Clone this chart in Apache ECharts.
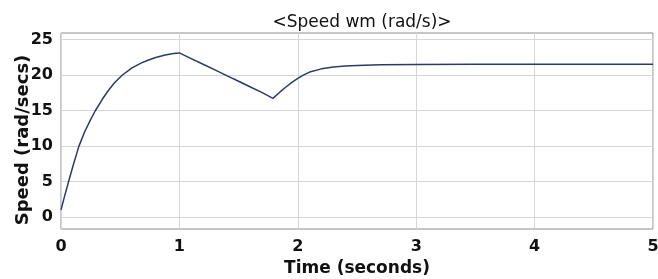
<!DOCTYPE html>
<html>
<head>
<meta charset="utf-8">
<script src="https://cdn.jsdelivr.net/npm/echarts@6/dist/echarts.min.js"></script>
<style>
  html, body { margin: 0; padding: 0; background: #fff; }
  #main { width: 658px; height: 279px; }
</style>
</head>
<body>
<div id="main"></div>
<script>
// values
var timeVals = [0, 0.03, 0.066, 0.1, 0.15, 0.2, 0.25, 0.29, 0.35, 0.4, 0.45, 0.516, 0.6, 0.68, 0.74, 0.8, 0.88, 0.95, 1.0,
  1.1, 1.2, 1.3, 1.4, 1.5, 1.6, 1.7, 1.79,
  1.85, 1.9, 1.95, 2.0, 2.05, 2.1, 2.2, 2.3, 2.4, 2.5, 2.7, 3.0, 3.5, 4.0, 4.5, 5.0];
var speedVals = [1.0, 2.9, 5.1, 7.1, 9.9, 12.0, 13.7, 14.95, 16.6, 17.8, 18.85, 19.95, 21.0, 21.7, 22.1, 22.45, 22.8, 23.0, 23.1,
  22.3, 21.5, 20.7, 19.9, 19.1, 18.3, 17.5, 16.7,
  17.6, 18.3, 18.95, 19.5, 20.0, 20.4, 20.85, 21.1, 21.25, 21.33, 21.42, 21.46, 21.5, 21.5, 21.5, 21.5];
var yTicks = [0, 5, 10, 15, 20, 25];

var seriesData = timeVals.map(function (t, i) { return [t, speedVals[i]]; });

var boldText = { fontFamily: 'DejaVu Sans', fontWeight: 'bold', color: '#111' };

var myChart = echarts.init(document.getElementById('main'));
myChart.setOption({
  animation: false,
  title: {
    text: '<Speed wm (rad/s)>',
    left: 357,
    textAlign: 'center',
    top: 9,
    textStyle: { fontFamily: 'DejaVu Sans', fontSize: 17, fontWeight: 'normal', color: '#111' }
  },
  grid: {
    left: 61, right: 5, top: 33, bottom: 50,
    outerBoundsMode: 'none', containLabel: false,
    show: true, borderColor: '#8c8c8c', borderWidth: 1
  },
  xAxis: {
    type: 'value',
    min: 0, max: 5, interval: 1,
    name: 'Time (seconds)',
    nameLocation: 'middle',
    nameGap: 31,
    nameMoveOverlap: false,
    nameTextStyle: Object.assign({ fontSize: 17 }, boldText),
    axisLine: { show: false },
    axisTick: { show: false },
    axisLabel: Object.assign({ margin: 10, fontSize: 16 }, boldText),
    splitLine: { show: true, lineStyle: { color: '#d6d6d6', width: 1 } }
  },
  yAxis: {
    type: 'value',
    min: -1.7, max: 25.9,
    name: 'Speed (rad/secs)',
    nameLocation: 'middle',
    nameGap: 29,
    nameMoveOverlap: false,
    nameTextStyle: Object.assign({ fontSize: 18, padding: [0, 18, 0, 0] }, boldText),
    axisLine: { show: false },
    axisTick: { show: false, customValues: yTicks },
    axisLabel: Object.assign({ customValues: yTicks, margin: 8, fontSize: 16 }, boldText),
    splitLine: { show: true, lineStyle: { color: '#d6d6d6', width: 1 } }
  },
  series: [{
    type: 'line',
    data: seriesData,
    showSymbol: false,
    smooth: false,
    lineStyle: { color: '#2e3a66', width: 1.5 }
  }]
});
</script>
</body>
</html>
